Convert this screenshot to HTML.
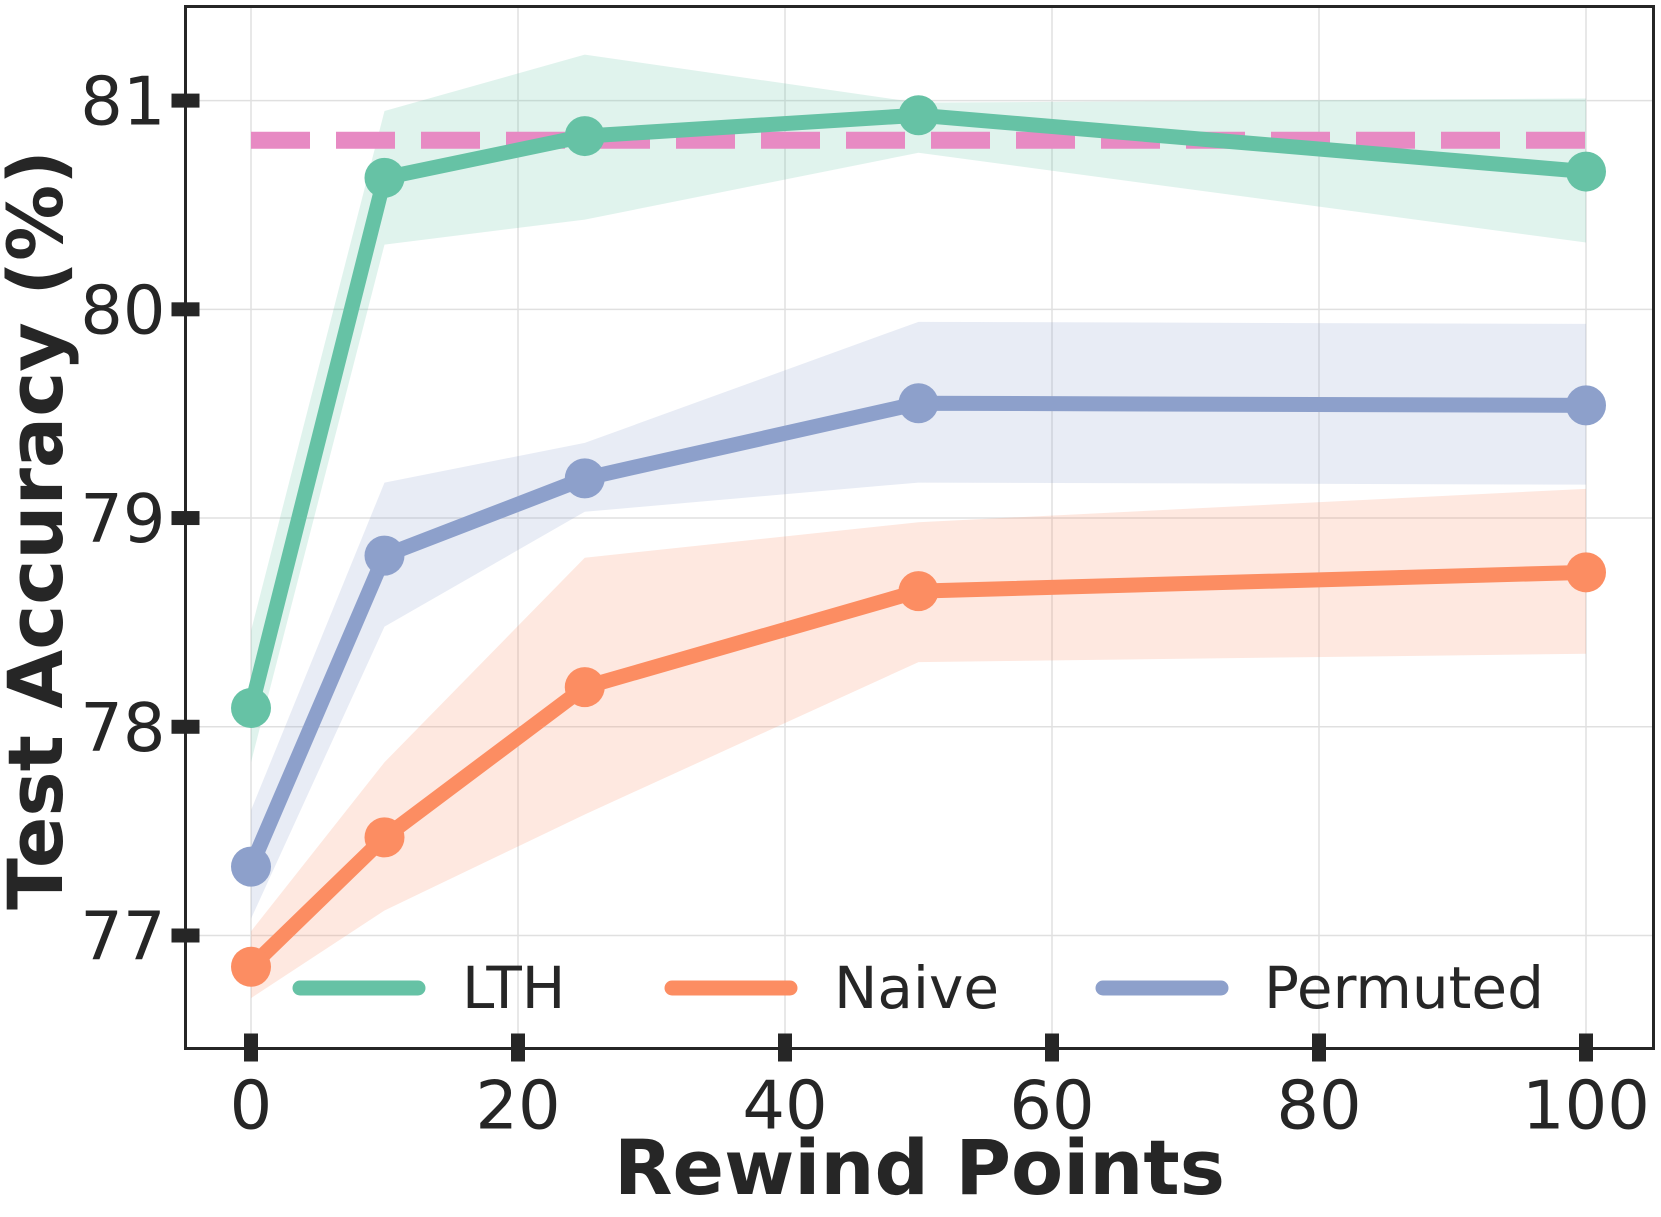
<!DOCTYPE html>
<html><head><meta charset="utf-8"><style>
html,body{margin:0;padding:0;background:#fff;}
svg{display:block;font-family:"DejaVu Sans","Liberation Sans",sans-serif;}
</style></head><body>
<svg id="chart" width="1661" height="1217" viewBox="0 0 1661 1217" xmlns="http://www.w3.org/2000/svg"></svg>
<script>
const xCats = [0, 10, 25, 50, 100];
const lthMean = [78.09, 80.63, 80.83, 80.93, 80.66];
const lthLow  = [77.83, 80.31, 80.43, 80.75, 80.32];
const lthHigh = [78.46, 80.95, 81.22, 80.99, 81.01];
const permMean = [77.33, 78.82, 79.19, 79.55, 79.54];
const permLow  = [77.08, 78.48, 79.03, 79.17, 79.16];
const permHigh = [77.60, 79.17, 79.36, 79.94, 79.93];
const naiveMean = [76.85, 77.47, 78.19, 78.65, 78.74];
const naiveLow  = [76.70, 77.12, 77.58, 78.31, 78.35];
const naiveHigh = [77.02, 77.83, 78.81, 78.98, 79.14];
const baseline = 80.81;
const xTicks = [0, 20, 40, 60, 80, 100];
const yTicks = [77, 78, 79, 80, 81];

const NS = "http://www.w3.org/2000/svg";
const svg = document.getElementById('chart');
const L = 185.5, R = 1653.5, T = 6.5, B = 1048.5;
const x0 = 251, x100 = 1586, y77 = 935.5, y81 = 100.6;
const X = v => x0 + (x100 - x0) * v / 100;
const Y = v => y77 + (y81 - y77) * (v - 77) / 4;
function el(tag, attrs, parent) {
  const e = document.createElementNS(NS, tag);
  for (const k in attrs) e.setAttribute(k, attrs[k]);
  (parent || svg).appendChild(e);
  return e;
}
xTicks.forEach(t => {
  const g = el('line', {x1: X(t), x2: X(t), y1: T, y2: B, stroke: '#e0e0e0', 'stroke-width': 1.5});
  
  
});
yTicks.forEach(t => {
  const g = el('line', {x1: L, x2: R, y1: Y(t), y2: Y(t), stroke: '#e0e0e0', 'stroke-width': 1.5});
  
  
});
function band(low, high, color, name) {
  let d = '';
  xCats.forEach((c, i) => { d += (i ? 'L' : 'M') + X(c) + ',' + Y(high[i]); });
  for (let i = xCats.length - 1; i >= 0; i--) d += 'L' + X(xCats[i]) + ',' + Y(low[i]);
  const p = el('path', {d: d + 'Z', fill: color, 'fill-opacity': 0.2, stroke: 'none'});
  
  
}
band(naiveLow, naiveHigh, '#fc8d62', 'naive-band');
band(permLow, permHigh, '#8da0cb', 'permuted-band');
band(lthLow, lthHigh, '#66c2a5', 'lth-band');
const bl = el('line', {x1: X(0), x2: X(100), y1: Y(baseline), y2: Y(baseline), stroke: '#e78ac3', 'stroke-width': 17, 'stroke-dasharray': '59 26'});


function series(vals, color, name) {
  const pts = xCats.map((c, i) => X(c) + ',' + Y(vals[i])).join(' ');
  const pl = el('polyline', {points: pts, fill: 'none', stroke: color, 'stroke-width': 15, 'stroke-linejoin': 'round'});
  
  
  xCats.forEach((c, i) => {
    const m = el('circle', {cx: X(c), cy: Y(vals[i]), r: 20, fill: color});
    
    
  });
}
series(naiveMean, '#fc8d62', 'naive');
series(permMean, '#8da0cb', 'permuted');
series(lthMean, '#66c2a5', 'lth');
const fr = el('rect', {x: L, y: T, width: R - L, height: B - T, fill: 'none', stroke: '#262626', 'stroke-width': 3});


xTicks.forEach(t => {
  const tk = el('rect', {x: X(t) - 7, y: B - 15, width: 14, height: 28, fill: '#262626'});
  
  
  const tx = el('text', {x: X(t), y: B + 80, 'text-anchor': 'middle', 'font-size': 67, fill: '#262626'});
  tx.textContent = t;
  
  
});
yTicks.forEach(t => {
  const tk = el('rect', {x: L - 14, y: Y(t) - 7, width: 28, height: 14, fill: '#262626'});
  
  
  const tx = el('text', {x: L - 20, y: Y(t) + 24, 'text-anchor': 'end', 'font-size': 67, fill: '#262626'});
  tx.textContent = t;
  
  
});
const legend = [['LTH', '#66c2a5', 300, 462], ['Naive', '#fc8d62', 672, 834], ['Permuted', '#8da0cb', 1103, 1264]];
legend.forEach(([lab, col, lx, tx]) => {
  const ln = el('line', {x1: lx, x2: lx + 118, y1: 988, y2: 988, stroke: col, 'stroke-width': 15, 'stroke-linecap': 'round'});
  
  
  const t = el('text', {x: tx, y: 1008, 'font-size': 58, fill: '#262626'});
  t.textContent = lab;
  
  
});
const xt = el('text', {x: (L + R) / 2, y: 1194, 'text-anchor': 'middle', 'font-size': 76, 'font-weight': 'bold', fill: '#262626'});
xt.textContent = 'Rewind Points';


const yt = el('text', {x: 0, y: 0, 'text-anchor': 'middle', 'font-size': 76, 'font-weight': 'bold', fill: '#262626', transform: 'translate(62,530) rotate(-90)'});
yt.textContent = 'Test Accuracy (%)';


</script>
</body></html>
